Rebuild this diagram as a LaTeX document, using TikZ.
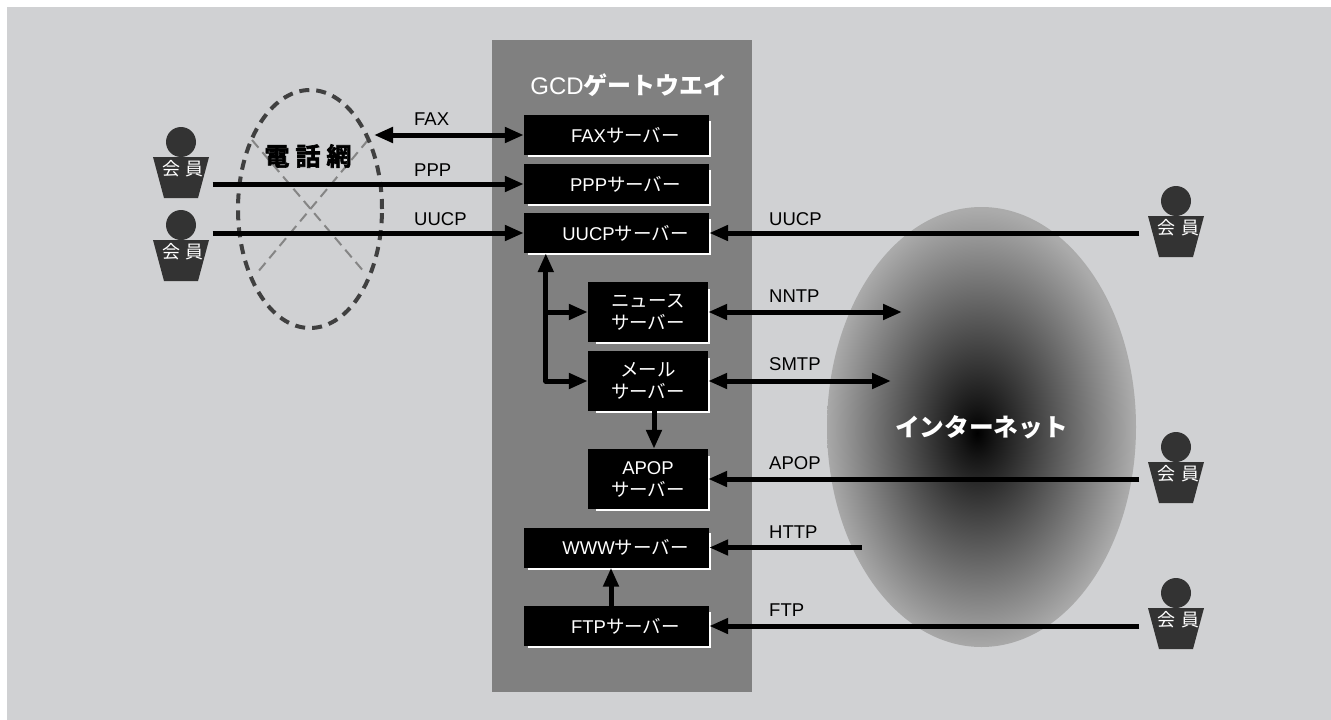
\documentclass[tikz,border=0pt]{standalone}
\usepackage{fontspec}
\setmainfont{Liberation Sans}
\newfontfamily\jp{Noto Sans CJK JP}
\newfontfamily\jpheavy[FakeBold=2.5]{Noto Sans CJK JP Bold}
\usetikzlibrary{arrows.meta,positioning,calc,shapes.geometric}
\definecolor{GcdPaper}{HTML}{D0D1D3}
\definecolor{GcdGate}{HTML}{808080}
\definecolor{GcdInk}{HTML}{333333}
\definecolor{GcdDash}{HTML}{404040}
\definecolor{GcdCross}{HTML}{858585}
\pgfdeclareradialshading{netglow}{\pgfpoint{-0.73bp}{-0.68bp}}{rgb(0bp)=(0,0,0);rgb(3bp)=(.09,.09,.09);rgb(25bp)=(.67,.67,.67);rgb(50bp)=(.67,.67,.67)}
\newcommand{\srv}{{\jp サーバー}}
\tikzset{
  flowtip/.tip={Triangle[length=19pt,width=15pt]},
  flow/.style={line width=5pt,line join=round,-{flowtip}},
  server/.style={fill=black,text=white,font=\fontsize{18.5}{22}\selectfont,align=center,inner sep=0pt,minimum width=120pt,minimum height=60pt},
  wideserver/.style={server,minimum width=185pt,minimum height=40pt,execute at begin node={\hspace*{18pt}}},
  proto/.style={anchor=west,inner sep=0pt,text=black,font=\fontsize{18.5}{22}\selectfont},
  memberhead/.style={circle,fill=GcdInk,minimum size=30pt,inner sep=0pt},
  memberbody/.style={trapezium,trapezium stretches=true,shape border rotate=180,trapezium angle=73,fill=GcdInk,minimum width=56pt,minimum height=41pt,inner sep=0pt},
  membertext/.style={text=white,inner sep=0pt,font=\fontsize{18}{18}\selectfont\jp},
}
\begin{document}
\begin{tikzpicture}[x=1pt,y=-1pt]
\useasboundingbox (0,0) rectangle (1331,720);
\fill[white] (0,0) rectangle (1331,720);
\fill[GcdPaper] (7,7) rectangle (1331,720);
\fill[GcdGate] (492,40) rectangle (752,692);

% clouds
\node[ellipse,shading=netglow,minimum width=309pt,minimum height=440pt,inner sep=0pt,text=white,font=\fontsize{24.7}{25}\selectfont\jp\bfseries] (internet) at (981.5,427) {\raisebox{-2pt}{インターネット}};
\draw[GcdCross,line width=2pt,dash pattern=on 10pt off 6pt] (252,140) -- (365,273);
\draw[GcdCross,line width=2pt,dash pattern=on 10pt off 6pt] (368,140) -- (257,273);
\node[ellipse,draw=GcdDash,line width=4pt,dash pattern=on 10pt off 7pt,minimum width=144pt,minimum height=238pt,inner sep=0pt] (phonenet) at (310,209) {};
\node[inner sep=0pt,font=\fontsize{25}{25}\selectfont\jpheavy] (phonelabel) at (308,156) {電\hspace{6pt}話\hspace{6pt}網};

% gateway
\node[text=white,inner sep=0pt,font=\fontsize{24}{24}\selectfont] (gatelabel) at (629,85.5) {GCD{\jp\bfseries ゲートウエイ}};
\node[wideserver] (fax) at (616.5,135) {FAX\srv};
\node[wideserver] (ppp) at (616.5,184) {PPP\srv};
\node[wideserver] (uucp) at (616.5,233) {UUCP\srv};
\node[server] (news) at (648,312) {{\jp ニュース}\\\srv};
\node[server] (mail) at (648,381) {{\jp メール}\\\srv};
\node[server] (apop) at (648,479) {APOP\\\srv};
\node[wideserver] (www) at (616.5,547.5) {WWW\srv};
\node[wideserver] (ftp) at (616.5,626) {FTP\srv};
\foreach \b in {fax,ppp,uucp,www,ftp}
  \draw[white,line width=2pt] ($(\b.north east)+(1,6)$) |- ($(\b.south west)+(4,1)$);
\foreach \b in {news,mail,apop}
  \draw[white,line width=2pt] ($(\b.north east)+(1,7)$) |- ($(\b.south west)+(8,1)$);

% members
\foreach \n/\x/\y in {ma/181/142,mb/181/225,mc/1176/201,md/1176/447,me/1176/593}{
  \node[memberhead] (\n head) at (\x,\y) {};
  \node[memberbody] (\n body) at ($(\n head)+(0,35.5)$) {\phantom{x}};
  \node[membertext] (\n text) at ($(\n head)+(2,27)$) {会\hspace{6pt}員};
}

% free ends
\coordinate (faxend) at (374,135);
\coordinate (nntpend) at (902,312);
\coordinate (smtpend) at (891,381);
\coordinate (httpend) at (862,547.5);
\coordinate (busend) at ($(uucp.south west)+(22,0)$);

% lines
\draw[flow,{flowtip}-{flowtip}] (faxend) -- (fax.west);
\draw[flow,shorten <=9pt] (mabody.east |- ppp.west) -- (ppp.west);
\draw[flow,shorten <=9pt] (mbbody.east |- uucp.west) -- (uucp.west);
\draw[flow,shorten <=14pt] (mcbody.west |- uucp.east) -- (uucp.east);
\draw[flow,{flowtip}-{flowtip}] (news.east) -- (nntpend);
\draw[flow,{flowtip}-{flowtip}] (mail.east) -- (smtpend);
\draw[flow,shorten <=14pt] (mdbody.west |- apop.east) -- (apop.east);
\draw[flow] (httpend) -- (www.east);
\draw[flow,shorten <=14pt] (mebody.west |- ftp.east) -- (ftp.east);
\draw[flow,{flowtip}-{flowtip}] (busend) |- (mail.west);
\draw[flow] (busend |- news.west) -- (news.west);
\draw[flow] ($(mail.south)+(6,0)$) -- ($(apop.north)+(6,0)$);
\draw[flow] ($(ftp.north)+(-5.5,0)$) -- ($(www.south)+(-5.5,0)$);

% labels
\node[proto] (lfax) at (414,119) {FAX};
\node[proto] (lppp) at (414,170) {PPP};
\node[proto] (luucp) at (414,219) {UUCP};
\node[proto] (ruucp) at (769,219) {UUCP};
\node[proto] (rnntp) at (769,296) {NNTP};
\node[proto] (rsmtp) at (769,364) {SMTP};
\node[proto] (rapop) at (769,463) {APOP};
\node[proto] (rhttp) at (769,532) {HTTP};
\node[proto] (rftp) at (769,610) {FTP};
\end{tikzpicture}
\end{document}
